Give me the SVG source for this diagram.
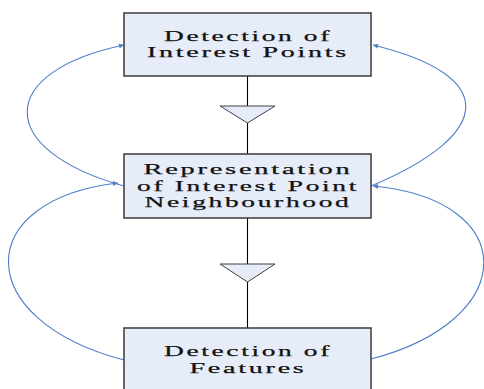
<svg xmlns="http://www.w3.org/2000/svg" width="484" height="389" viewBox="0 0 484 389">
<style>
.box{fill:#E7EDF8;stroke:#454545;stroke-width:1.6}
.tri{fill:#E7EDF8;stroke:#404040;stroke-width:1}
.lbl{font-family:"Liberation Serif","Times New Roman",serif;font-size:15.5px;letter-spacing:1.5px;fill:#111;stroke:#111;stroke-width:0.25;text-anchor:middle}
.link{fill:none;stroke:#000;stroke-width:1.1}
.curve{fill:none;stroke:#4F7FC9;stroke-width:1.1}
</style>
<defs>
<marker id="ah" viewBox="0 0 10 10" refX="10" refY="5" markerWidth="7" markerHeight="5" markerUnits="userSpaceOnUse" orient="auto">
<path d="M0,0 L10,5 L0,10 z" fill="#4F7FC9"/>
</marker>
</defs>
<rect width="484" height="389" fill="#fff"/>
<g id="connectors">
<line class="link" x1="247.5" y1="76" x2="247.5" y2="154"/>
<line class="link" x1="247.5" y1="218" x2="247.5" y2="328"/>
<polygon class="tri" points="220,106 275,106 247.5,123"/>
<polygon class="tri" points="220,264 275,264 247.5,282"/>
<path class="curve" d="M124,186 C-5,150 -5,72 124,45" marker-end="url(#ah)"/>
<path class="curve" d="M124,360 C-29,320 -29,200 118,183" marker-end="url(#ah)"/>
<path class="curve" d="M371,186 C497,133 497,75 373,45" marker-end="url(#ah)"/>
<path class="curve" d="M371,359 C521,320 521,200 373,186" marker-end="url(#ah)"/>
</g>
<g id="node1">
<rect class="box" x="124" y="13" width="247" height="63"/>
<text class="lbl" x="248" y="41" textLength="168" lengthAdjust="spacingAndGlyphs">Detection of</text>
<text class="lbl" x="248" y="57" textLength="202" lengthAdjust="spacingAndGlyphs">Interest Points</text>
</g>
<g id="node2">
<rect class="box" x="124" y="154" width="247" height="64"/>
<text class="lbl" x="248" y="174" textLength="209" lengthAdjust="spacingAndGlyphs">Representation</text>
<text class="lbl" x="248" y="191" textLength="222" lengthAdjust="spacingAndGlyphs">of Interest Point</text>
<text class="lbl" x="248" y="207" textLength="207" lengthAdjust="spacingAndGlyphs">Neighbourhood</text>
</g>
<g id="node3">
<rect class="box" x="124" y="328" width="247" height="70"/>
<text class="lbl" x="248" y="356" textLength="168" lengthAdjust="spacingAndGlyphs">Detection of</text>
<text class="lbl" x="248" y="373" textLength="117" lengthAdjust="spacingAndGlyphs">Features</text>
</g>
</svg>
